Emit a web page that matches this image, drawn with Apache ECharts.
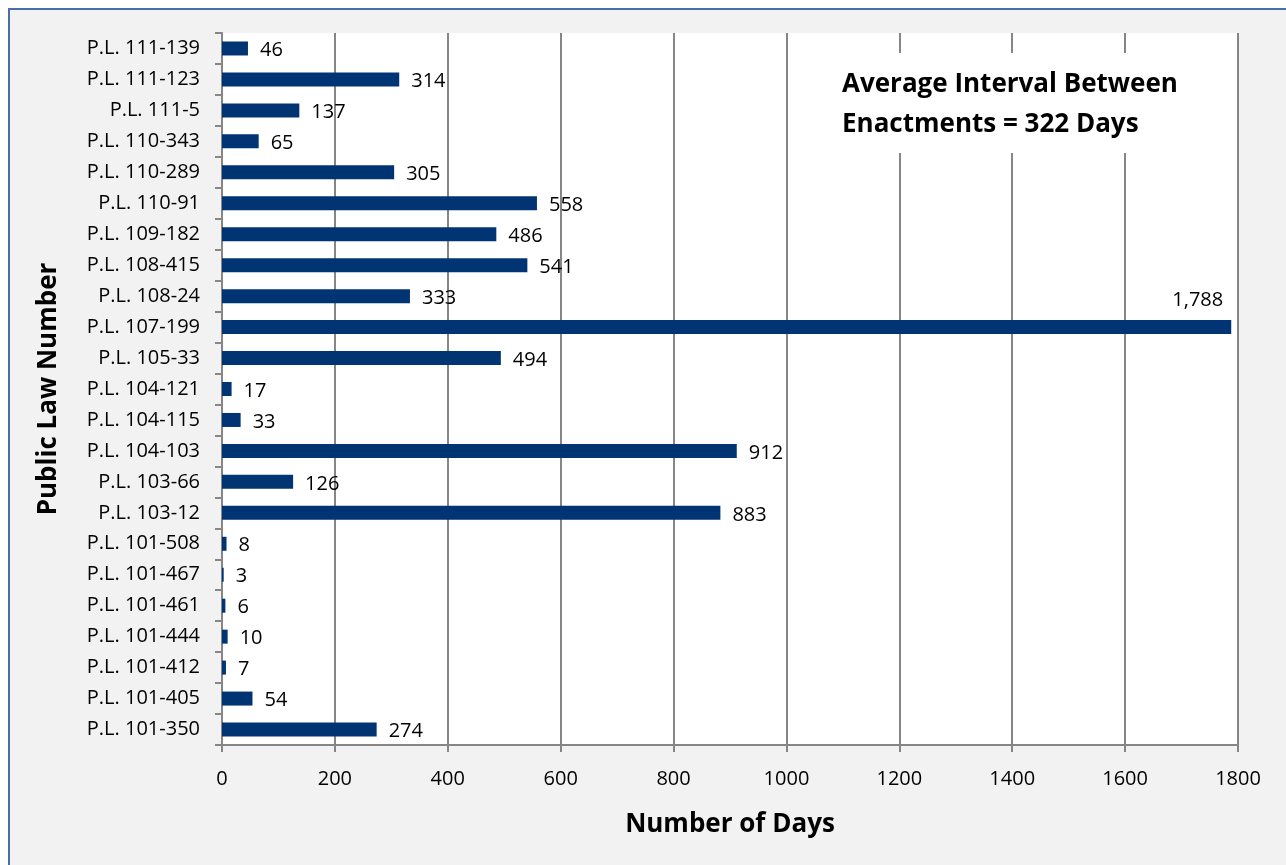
<!DOCTYPE html>
<html>
<head>
<meta charset="utf-8">
<script src="https://cdn.jsdelivr.net/npm/echarts@6/dist/echarts.min.js"></script>
<style>
  html, body { margin:0; padding:0; background:#ffffff; overflow:hidden; }
  #frame { position:absolute; left:8px; top:8px; width:1290px; height:870px; background:#f2f2f2; border:2px solid #4a6fa5; }
  #chart { position:absolute; left:0; top:0; width:1286px; height:865px; }
</style>
</head>
<body>
<div id="frame"></div>
<div id="chart"></div>
<script>
const categories = ['P.L. 111-139','P.L. 111-123','P.L. 111-5','P.L. 110-343','P.L. 110-289','P.L. 110-91','P.L. 109-182','P.L. 108-415','P.L. 108-24','P.L. 107-199','P.L. 105-33','P.L. 104-121','P.L. 104-115','P.L. 104-103','P.L. 103-66','P.L. 103-12','P.L. 101-508','P.L. 101-467','P.L. 101-461','P.L. 101-444','P.L. 101-412','P.L. 101-405','P.L. 101-350'];
const days = [46,314,137,65,305,558,486,541,333,1788,494,17,33,912,126,883,8,3,6,10,7,54,274];
const xTicks = { min: 0, max: 1800, interval: 200 };
const xTitle = 'Number of Days';
const yTitle = 'Public Law Number';
const noteLines = ['Average Interval Between', 'Enactments = 322 Days'];

const FONT = '"Open Sans", "Liberation Sans", sans-serif';
const fmt = v => v.toLocaleString('en-US');

const seriesData = days.map(v => {
  if (v >= 1700) {
    return { value: v, label: { position: ['100%', '0%'], align: 'right', verticalAlign: 'bottom', offset: [-8, -10] } };
  }
  return v;
});

const chart = echarts.init(document.getElementById('chart'), null, { renderer: 'canvas' });
chart.setOption({
  animation: false,
  grid: { left: 222, right: 48, top: 33, bottom: 120, show: true, backgroundColor: '#ffffff', borderWidth: 0 },
  xAxis: {
    type: 'value', min: xTicks.min, max: xTicks.max, interval: xTicks.interval,
    name: xTitle, nameLocation: 'middle', nameGap: 67,
    nameTextStyle: { fontFamily: FONT, fontWeight: 'bold', fontSize: 26, color: '#000' },
    axisLine: { show: true, lineStyle: { color: '#868686', width: 2 } },
    axisTick: { show: true, length: 7, lineStyle: { color: '#868686', width: 2 } },
    axisLabel: { fontFamily: FONT, fontSize: 20, color: '#000', margin: 24, formatter: v => String(v) },
    splitLine: { show: true, lineStyle: { color: '#868686', width: 2 } }
  },
  yAxis: {
    type: 'category', data: categories, inverse: true,
    name: yTitle, nameLocation: 'middle', nameGap: 160, nameRotate: 90,
    nameTextStyle: { fontFamily: FONT, fontWeight: 'bold', fontSize: 26, color: '#000' },
    axisLine: { show: true, lineStyle: { color: '#868686', width: 2 } },
    axisTick: { show: true, length: 7, alignWithLabel: false, lineStyle: { color: '#868686', width: 2 } },
    axisLabel: { fontFamily: FONT, fontSize: 20, color: '#000', margin: 22, padding: [2, 0, 0, 0] },
    splitLine: { show: false }
  },
  series: [{
    type: 'bar', data: seriesData, barWidth: 14,
    itemStyle: { color: '#003473' },
    label: { show: true, position: 'right', distance: 12, offset: [0, 2], fontFamily: FONT, fontSize: 20, color: '#000',
      formatter: p => fmt(p.value) }
  }],
  graphic: [{
    type: 'group', left: 800, top: 53, silent: true, z: 100,
    children: [
      { type: 'rect', z: 100, shape: { x: 0, y: 0, width: 428, height: 100 }, style: { fill: '#ffffff' } },
      { type: 'text', z: 101, x: 42, y: 19, style: { text: noteLines[0], fontFamily: FONT, fontWeight: 'bold', fontSize: 26, fill: '#000', textVerticalAlign: 'top' } },
      { type: 'text', z: 101, x: 42, y: 59, style: { text: noteLines[1], fontFamily: FONT, fontWeight: 'bold', fontSize: 26, fill: '#000', textVerticalAlign: 'top' } }
    ]
  }]
});
</script>
</body>
</html>
